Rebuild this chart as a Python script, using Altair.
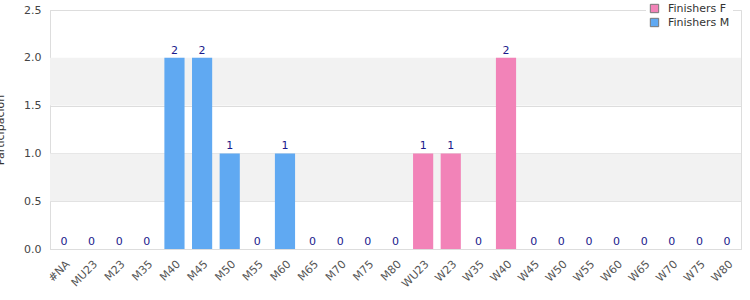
import altair as alt
import pandas as pd

categories = ["#NA", "MU23", "M23", "M35", "M40", "M45", "M50", "M55", "M60", "M65",
              "M70", "M75", "M80", "WU23", "W23", "W35", "W40", "W45", "W50", "W55",
              "W60", "W65", "W70", "W75", "W80"]
finishers_m = [0, 0, 0, 0, 2, 2, 1, 0, 1, 0, 0, 0, 0, None, None, None, None, None, None, None, None, None, None, None, None]
finishers_f = [None, None, None, None, None, None, None, None, None, None, None, None, None, 1, 1, 0, 2, 0, 0, 0, 0, 0, 0, 0, 0]
series_names = ["Finishers F", "Finishers M"]
series_colors = ["#f283b8", "#60a9f2"]
band_lo = [0.5, 1.5]
band_hi = [1.0, 2.0]

rows = []
for c, m, f in zip(categories, finishers_m, finishers_f):
    if f is not None:
        rows.append({"cat": c, "series": "Finishers F", "value": f})
    if m is not None:
        rows.append({"cat": c, "series": "Finishers M", "value": m})
df = pd.DataFrame(rows)
bands = pd.DataFrame({"lo": band_lo, "hi": band_hi})

FONT = "DejaVu Sans"
YSCALE = alt.Scale(domain=[0, 2.5], nice=False, zero=True)

band_layer = alt.Chart(bands).mark_rect(color="#f2f2f2").encode(
    y=alt.Y("lo:Q", scale=YSCALE),
    y2="hi:Q",
    x=alt.value(0),
    x2=alt.value(691),
)

x_enc = alt.X("cat:N", sort=categories, scale=alt.Scale(paddingInner=0.27, paddingOuter=0.14),
              axis=alt.Axis(title=None, labelAngle=-45, labelFont=FONT, labelFontSize=11,
                            labelColor="#555555", ticks=False, domainColor="#dddddd",
                            labelPadding=9))
y_enc = alt.Y("value:Q", scale=YSCALE,
              axis=alt.Axis(title="Participación", values=[0, 0.5, 1.0, 1.5, 2.0, 2.5],
                            format=".1f", ticks=False, gridColor="#dddddd", domainColor="#dddddd",
                            labelFont=FONT, labelFontSize=11, labelColor="#444444",
                            titleFont=FONT, titleFontSize=11, titleColor="#333333",
                            titleFontWeight="normal", titlePadding=18, labelPadding=9))

bars = alt.Chart(df).mark_bar().encode(
    x=x_enc,
    y=y_enc,
    color=alt.Color("series:N", scale=alt.Scale(domain=series_names, range=series_colors),
                    legend=alt.Legend(title=None, orient="none", legendX=596, legendY=-10,
                                      symbolType="square", symbolStrokeColor="#777777",
                                      symbolStrokeWidth=1, symbolSize=70,
                                      labelFont=FONT, labelFontSize=11, labelColor="#333333",
                                      fillColor="white", padding=3, rowPadding=1,
                                      labelOffset=8)),
)

labels = alt.Chart(df).mark_text(dy=-7, color="#1a1a8c", font=FONT, fontSize=11).encode(
    x=alt.X("cat:N", sort=categories),
    y=alt.Y("value:Q", scale=YSCALE),
    text=alt.Text("value:Q", format="d"),
)

chart = alt.layer(band_layer, bars, labels).properties(
    width=691, height=239,
    autosize=alt.AutoSizeParams(type="none"),
    padding={"left": 50, "top": 10, "right": 9, "bottom": 51},
).configure_view(stroke="#dddddd").configure(background="white")

chart.save("out.html", embed_options={"renderer": "svg", "actions": False})
